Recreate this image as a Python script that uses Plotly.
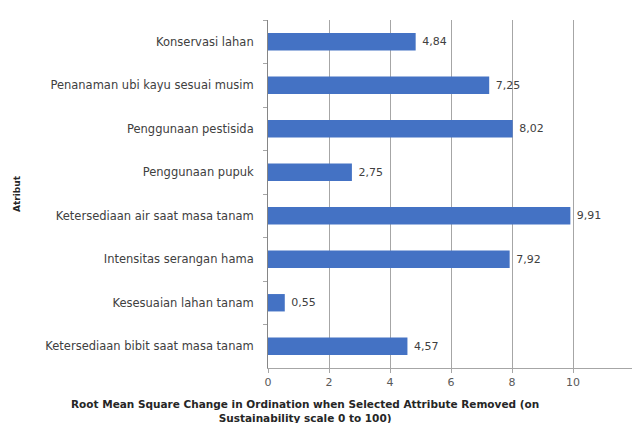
import plotly.graph_objects as go

categories = [
    "Konservasi lahan",
    "Penanaman ubi kayu sesuai musim",
    "Penggunaan pestisida",
    "Penggunaan pupuk",
    "Ketersediaan air saat masa tanam",
    "Intensitas serangan hama",
    "Kesesuaian lahan tanam",
    "Ketersediaan bibit saat masa tanam",
]
values = [4.84, 7.25, 8.02, 2.75, 9.91, 7.92, 0.55, 4.57]
x_ticks = [0, 2, 4, 6, 8, 10, 12]

x_title = ("Root Mean Square Change in Ordination when Selected Attribute Removed (on"
           "<br>Sustainability scale 0 to 100)")
y_title = "Atribut"

FONT = "DejaVu Sans"
TXT = "#404040"

FW, FH = 632, 423
L, R, T, B = 268, 0, 20, 55
W = FW - L - R
H = FH - T - B

fig = go.Figure(go.Bar(
    x=values,
    y=categories,
    orientation="h",
    width=0.4,
    marker=dict(color="#4472C4", line=dict(width=0)),
    texttemplate=" %{x:.2f}",
    textposition="outside",
    textfont=dict(family=FONT, size=11, color=TXT),
    cliponaxis=False,
))

fig.update_layout(
    width=FW,
    height=FH,
    margin=dict(l=L, r=R, t=T, b=B),
    paper_bgcolor="white",
    plot_bgcolor="white",
    separators=",.",
    showlegend=False,
    font=dict(family=FONT, size=11, color=TXT),
    xaxis=dict(
        range=[0, 11.93],
        tickvals=x_ticks,
        showgrid=True,
        gridcolor="#a6a6a6",
        gridwidth=1,
        zeroline=False,
        showline=True,
        linecolor="#a6a6a6",
        ticks="outside",
        ticklen=4,
        tickcolor="#a6a6a6",
        tickfont=dict(family=FONT, size=11, color="#595959"),
        automargin=False,
    ),
    yaxis=dict(
        categoryorder="array",
        categoryarray=categories,
        autorange="reversed",
        showgrid=False,
        zeroline=False,
        showline=True,
        linecolor="#868686",
        ticks="outside",
        ticklen=4,
        tickcolor="#a6a6a6",
        tickson="boundaries",
        ticklabelstandoff=11,
        tickfont=dict(family=FONT, size=11.5, color=TXT),
        automargin=False,
    ),
    annotations=[
        dict(
            text="<b>" + x_title + "</b>",
            xref="paper", yref="paper",
            x=(305 - L) / W, y=(368 - 396) / H,
            xanchor="center", yanchor="top",
            showarrow=False,
            font=dict(family=FONT, size=10.5, color="#262626"),
            align="center",
        ),
        dict(
            text="<b>" + y_title + "</b>",
            xref="paper", yref="paper",
            x=(17 - L) / W, y=0.5,
            xanchor="center", yanchor="middle",
            textangle=-90,
            showarrow=False,
            font=dict(family=FONT, size=9, color="#262626"),
        ),
    ],
)

fig.write_html(
    "out.html",
    config={"displayModeBar": False},
    post_script="document.body.style.margin='0';document.body.style.overflow='hidden';",
)
